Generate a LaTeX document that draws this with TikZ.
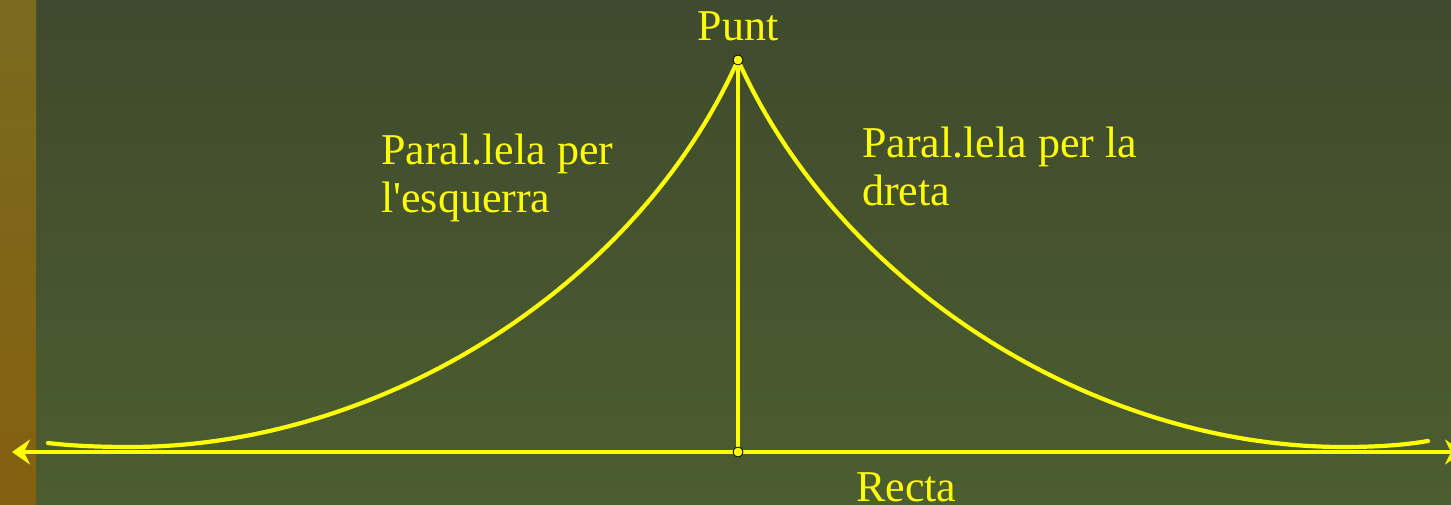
\documentclass[tikz,border=0pt]{standalone}
\usepackage{fontspec}
\setmainfont{Liberation Serif}[Ligatures=TeXOff]
\usetikzlibrary{arrows.meta}
\definecolor{bgtop}{HTML}{3F4A2E}
\definecolor{bgbot}{HTML}{4B5E2F}
\definecolor{striptop}{HTML}{7A6A1E}
\definecolor{stripbot}{HTML}{856010}
\definecolor{ylw}{HTML}{FFFF00}
\tikzset{
  geo/.style={draw=ylw, line width=4.2pt, line join=round, line cap=round},
  axisline/.style={draw=ylw, line width=3.2pt, {Stealth[length=18pt,width=25pt,inset=6pt]}-{Stealth[length=18pt,width=25pt,inset=6pt]}},
  perp/.style={draw=ylw, line width=3.2pt},
  lbl/.style={text=ylw, font=\fontsize{44}{48}\selectfont, inner sep=0pt, align=left},
  pt/.style={circle, fill=ylw, draw=black, line width=0.8pt, minimum size=10pt, inner sep=0pt}
}
\begin{document}
\begin{tikzpicture}[x=1pt,y=-1pt]
\useasboundingbox (0,0) rectangle (1451,505);
\shade[top color=bgtop, bottom color=bgbot] (0,0) rectangle (1451,505);
\shade[top color=striptop, bottom color=stripbot] (0,0) rectangle (36,505);
\coordinate (P) at (738,60);
\coordinate (Q) at (738,452);
\coordinate (L) at (12,452);
\coordinate (R) at (1463,452);
\coordinate (Lend) at (48,443);
\coordinate (Rend) at (1428,441);
% left and right parallels
\draw[geo] (Lend) .. controls (65,445) and (90,447) .. (130,447)
  .. controls (380,447) and (636,288) .. (P);
\draw[geo] (P) .. controls (840,288) and (1096,447) .. (1343,447)
  .. controls (1385,447) and (1410,444) .. (Rend);
% line and perpendicular
\draw[axisline] (L) -- (R);
\draw[perp] (P) -- (Q);
\node[pt] (ptP) at (P) {};
\node[pt] (ptQ) at (Q) {};
% labels
\node[lbl, anchor=base] (punt) at (738,41) {Punt};
\node[lbl, anchor=base west] (esq) at (381,213) {Paral.lela per\\l'esquerra};
\node[lbl, anchor=base west] (dre) at (862,206) {Paral.lela per la\\dreta};
\node[lbl, anchor=base west] (recta) at (856,501) {Recta};
\end{tikzpicture}
\end{document}
